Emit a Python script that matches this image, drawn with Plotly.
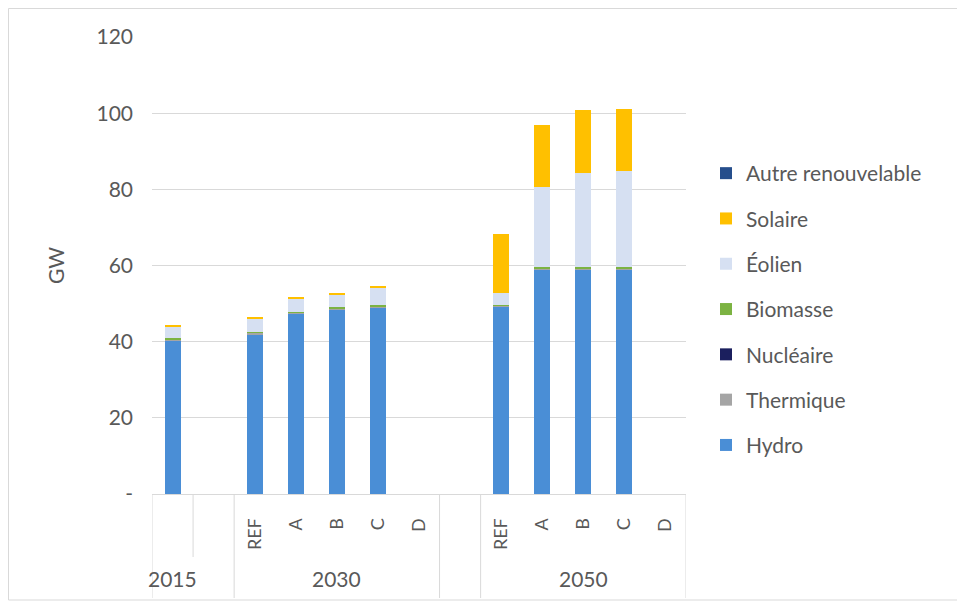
import plotly.graph_objects as go

# ---- data ----
groups = ["2015", "", "2030", "2030", "2030", "2030", "2030", "", "2050", "2050", "2050", "2050", "2050"]
scenarios = ["", "", "REF", "A", "B", "C", "D", "", "REF", "A", "B", "C", "D"]

hydro     = [40.3, 0, 42.0, 47.4, 48.5, 49.0, 0, 0, 49.2, 59.0, 59.0, 59.0, 0]
thermique = [0.3, 0, 0.3, 0.2, 0.2, 0.2, 0, 0, 0.2, 0.2, 0.2, 0.2, 0]
nucleaire = [0, 0, 0, 0, 0, 0, 0, 0, 0, 0, 0, 0, 0]
biomasse  = [0.3, 0, 0.3, 0.3, 0.3, 0.3, 0, 0, 0.3, 0.4, 0.4, 0.4, 0]
eolien    = [3.0, 0, 3.4, 3.5, 3.4, 4.8, 0, 0, 3.0, 21.1, 24.8, 25.3, 0]
solaire   = [0.6, 0, 0.5, 0.4, 0.4, 0.4, 0, 0, 15.7, 16.2, 16.4, 16.2, 0]
autre     = [0, 0, 0, 0, 0, 0, 0, 0, 0, 0, 0, 0, 0]

series = [
    ("Hydro", hydro, "#4A8ED6"),
    ("Thermique", thermique, "#A5A5A5"),
    ("Nucléaire", nucleaire, "#1B1F5E"),
    ("Biomasse", biomasse, "#7CB342"),
    ("Éolien", eolien, "#D6E0F2"),
    ("Solaire", solaire, "#FFC000"),
    ("Autre renouvelable", autre, "#264E8C"),
]

yticks = [0, 20, 40, 60, 80, 100, 120]
yticktext = ["-", "20", "40", "60", "80", "100", "120"]

group_labels = [("2015", 0), ("2030", 4), ("2050", 10)]
dividers_full = [-0.5, 1.5, 6.5, 7.5, 12.5]
dividers_inner = [0.5]

FONT = "Lato, Open Sans, sans-serif"
GREY = "#595959"

keys = [f"{g}|{s}|{i}" for i, (g, s) in enumerate(zip(groups, scenarios))]

fig = go.Figure()
n = len(series)
for i, (name, vals, col) in enumerate(series):
    fig.add_trace(go.Bar(
        x=keys, y=vals, name=name, marker=dict(color=col, line=dict(width=0)),
        legendgroup=name, legendrank=n - i,
    ))

# page body has an 8px margin: figure is offset by 8px
W, H = 957, 599
L, T, R, B = 144, 29, 957 - 678, 599 - 486
pw, ph = W - L - R, H - T - B

def px(xpage):
    return (xpage - 8 - L) / pw

def py(ypage):
    return (H - B - (ypage - 8)) / ph

shapes = []
for d in dividers_full:
    shapes.append(dict(type="line", xref="x", yref="paper", x0=d, x1=d, y0=0, y1=py(598),
                       line=dict(color="#D9D9D9", width=1)))
for d in dividers_inner:
    shapes.append(dict(type="line", xref="x", yref="paper", x0=d, x1=d, y0=0, y1=py(557),
                       line=dict(color="#D9D9D9", width=1)))
# outer frame
shapes.append(dict(type="rect", xref="paper", yref="paper", x0=px(8.5), x1=px(959), y0=py(600), y1=py(8.5),
                   line=dict(color="#D9D9D9", width=1), fillcolor="rgba(0,0,0,0)", layer="below"))

annotations = [dict(text=t, x=keys[i], xref="x", y=py(578), yref="paper", showarrow=False,
                    font=dict(family=FONT, size=21, color=GREY), yanchor="middle")
               for t, i in group_labels]

fig.update_layout(
    width=W, height=H,
    margin=dict(l=L, r=R, t=T, b=B),
    barmode="stack", bargap=0.61,
    paper_bgcolor="white", plot_bgcolor="white",
    font=dict(family=FONT, color=GREY, size=17),
    showlegend=True,
    legend=dict(traceorder="grouped", x=px(706), y=py(153), xanchor="left", yanchor="top",
                font=dict(family=FONT, size=21, color=GREY), tracegroupgap=15,
                itemwidth=30, bgcolor="rgba(0,0,0,0)"),
    shapes=shapes, annotations=annotations,
)
fig.update_xaxes(
    type="category", tickvals=keys, ticktext=scenarios, tickangle=-90,
    tickfont=dict(family=FONT, size=18, color=GREY),
    showgrid=False, showline=True, linecolor="#D9D9D9", linewidth=1,
    ticks="", ticklabelstandoff=16, range=[-0.5, 12.5],
)
fig.update_yaxes(
    range=[0, 120], tickvals=yticks, ticktext=yticktext,
    tickfont=dict(family=FONT, size=21, color=GREY),
    showgrid=True, gridcolor="#D9D9D9", gridwidth=1, zeroline=False,
    ticks="", ticklabelstandoff=18,
    title=dict(text="GW", font=dict(family=FONT, size=21, color=GREY), standoff=26),
)

fig.write_html("out.html")
